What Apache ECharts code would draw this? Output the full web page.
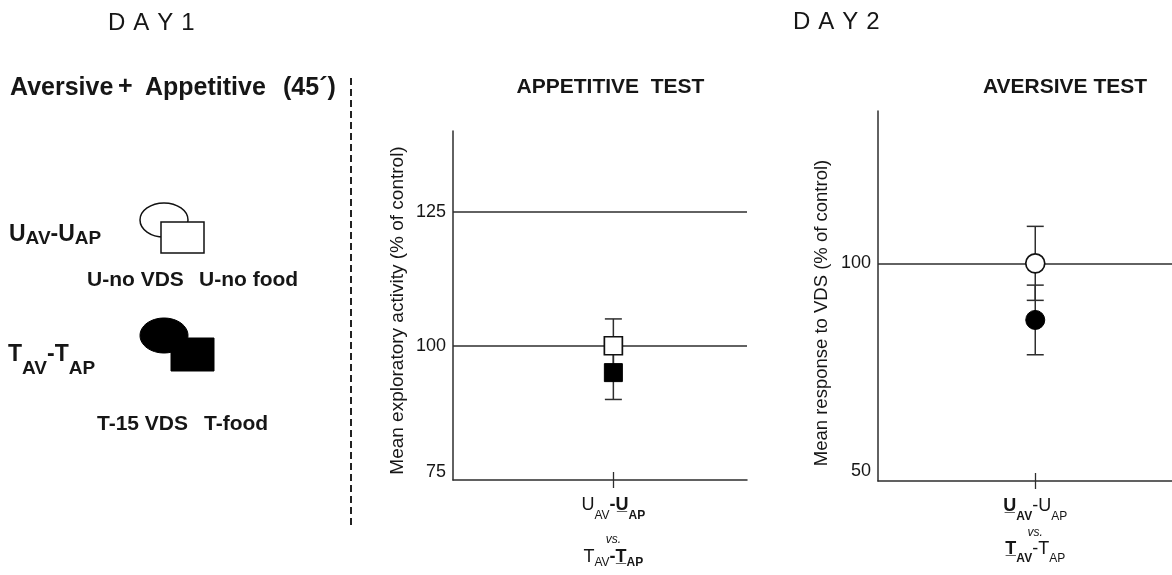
<!DOCTYPE html>
<html><head><meta charset="utf-8">
<script src="https://cdn.jsdelivr.net/npm/echarts@6/dist/echarts.min.js"></script>
<style>html,body{margin:0;padding:0;background:#fff}#c{width:1172px;height:575px}</style>
</head><body><div id="c"></div>
<script>
// ---------- data ----------
const groupPositions = [0];                       // one comparison group per test
const appetitiveMeans = [100, 95];                // [U_AV-U_AP (open), T_AV-T_AP (filled)]
const appetitiveErrors = [5, 5];
const aversiveMeans = [100, 87];
const aversiveErrors = [8.5, 8];
const appetitiveTicks = [75, 100, 125];
const appetitiveMax = 140;
const aversiveTicks = [50, 100];
const aversiveMax = 135;
const appetitiveGroupLabel = '{r|U}{rs|AV}{b|-}{bu|U\u0332}{bs|AP}\n{vs|vs.}\n{r|T}{rs3|AV}{b|-}{bu|T\u0332}{bs3|AP}';
const aversiveGroupLabel = '{bu|U\u0332}{bs|AV}{r|-U}{rs|AP}\n{vs|vs.}\n{bu|T\u0332}{bs3|AV}{r|-T}{rs3|AP}';

// ---------- style ----------
const FONT = '"Liberation Sans", Arial, Helvetica, sans-serif';
const INK = '#161616';
const LINE = '#2e2e2e';

const chart = echarts.init(document.getElementById('c'), null, {renderer: 'canvas'});

// lineH: height of first line; vsH / vsPad: height and top padding of the "vs." line
function richFor(lineH, vsH, vsPad, sub1Pad, sub3Pad) {
  const base = {fontFamily: FONT, color: INK, verticalAlign: 'top'};
  const main = Object.assign({}, base, {fontSize: 18, lineHeight: lineH});
  const sub = Object.assign({}, base, {fontSize: 12, lineHeight: 10});
  return {
    r: main,
    b: Object.assign({}, main, {fontWeight: 'bold'}),
    bu: Object.assign({}, main, {fontWeight: 'bold'}),
    rs: Object.assign({}, sub, {padding: [sub1Pad, 0, 0, 0]}),
    bs: Object.assign({}, sub, {fontWeight: 'bold', padding: [sub1Pad, 0, 0, 0]}),
    rs3: Object.assign({}, sub, {padding: [sub3Pad, 0, 0, 0]}),
    bs3: Object.assign({}, sub, {fontWeight: 'bold', padding: [sub3Pad, 0, 0, 0]}),
    vs: Object.assign({}, base, {fontSize: 12, lineHeight: vsH, fontStyle: 'italic', padding: [vsPad, 0, 0, 0]})
  };
}

function errorSeries(axisIdx, means, errs) {
  return {
    type: 'custom', xAxisIndex: axisIdx * 2, yAxisIndex: axisIdx, z: 2, silent: true,
    encode: {x: 0, y: [1, 2]},
    data: means.map((m, i) => [groupPositions[0], m - errs[i], m + errs[i]]),
    renderItem(params, api) {
      const x = api.value(0);
      const top = api.coord([x, api.value(2)]);
      const bot = api.coord([x, api.value(1)]);
      const hw = 8.5;
      const st = {stroke: LINE, lineWidth: 1.5};
      return {type: 'group', children: [
        {type: 'line', shape: {x1: top[0], y1: top[1], x2: bot[0], y2: bot[1]}, style: st},
        {type: 'line', shape: {x1: top[0] - hw, y1: top[1], x2: top[0] + hw, y2: top[1]}, style: st},
        {type: 'line', shape: {x1: bot[0] - hw, y1: bot[1], x2: bot[0] + hw, y2: bot[1]}, style: st}
      ]};
    }
  };
}

function markerSeries(axisIdx, value, symbol, filled, size) {
  return {
    type: 'scatter', xAxisIndex: axisIdx * 2, yAxisIndex: axisIdx, z: 3, silent: true,
    symbol: symbol, symbolSize: size,
    data: [[groupPositions[0], value]],
    itemStyle: filled ? {color: '#000', borderColor: '#000', borderWidth: 1, opacity: 1}
                      : {color: '#fff', borderColor: '#111', borderWidth: 1.7, opacity: 1}
  };
}

function xAxes(grid, min, label, rich) {
  return [
    {gridIndex: grid, type: 'value', min: min, max: 1, position: 'bottom',
     axisLine: {show: true, onZero: false, lineStyle: {color: LINE, width: 1.5}},
     axisTick: {show: true, customValues: groupPositions, length: 8, lineStyle: {color: LINE, width: 1.3}},
     axisLabel: {show: true, customValues: groupPositions, margin: 16, formatter: () => label, rich: rich},
     splitLine: {show: false}},
    {gridIndex: grid, type: 'value', min: min, max: 1, position: 'bottom',
     axisLine: {show: false, onZero: false},
     axisTick: {show: true, inside: true, customValues: groupPositions, length: 8, lineStyle: {color: LINE, width: 1.3}},
     axisLabel: {show: false},
     splitLine: {show: false}}
  ];
}

function yAxis(grid, ticks, max, name, nameSize, lowPad, namePad, nameGap) {
  return {
    gridIndex: grid, type: 'value', min: ticks[0], max: max, interval: ticks[1] - ticks[0],
    name: name, nameLocation: 'middle', nameRotate: 90, nameGap: nameGap,
    nameTextStyle: {fontSize: nameSize, fontFamily: FONT, color: INK, padding: namePad},
    axisLine: {show: true, onZero: false, lineStyle: {color: LINE, width: 1.5}},
    axisTick: {show: false},
    axisLabel: {fontSize: 18, fontFamily: FONT, color: INK, margin: 7, showMaxLabel: false,
      formatter: v => v === ticks[0] ? '{lo|' + v + '}' : String(v),
      rich: {lo: {fontSize: 18, fontFamily: FONT, color: INK, padding: [0, 0, lowPad, 0]}}},
    splitLine: {show: true, showMinLine: false, showMaxLine: false, lineStyle: {color: LINE, width: 1.5}}
  };
}

const txt = (x, y, text, size, weight, extra) => ({
  type: 'text', x: x, y: y, silent: true,
  style: Object.assign({text: text, fontSize: size, fontFamily: FONT, fontWeight: weight || 'normal',
    fill: INK, align: 'left', verticalAlign: 'middle', textAlign: 'left', textVerticalAlign: 'middle'}, extra || {})
});

const dayRich = {l: {fontSize: 24, fontFamily: FONT, fill: INK, padding: [0, 4, 0, 4]}};
const groupRich = (subPad) => ({
  m: {fontSize: 23, fontFamily: FONT, fontWeight: 'bold', fill: INK, lineHeight: 23, verticalAlign: 'top'},
  s: {fontSize: 19, fontFamily: FONT, fontWeight: 'bold', fill: INK, lineHeight: 12, verticalAlign: 'top', padding: [subPad, 0, 0, 0]}
});

const option = {
  backgroundColor: '#fff',
  animation: false,
  grid: [
    {left: 453, top: 131, width: 294, height: 349, containLabel: false},
    {left: 878, top: 111, right: 0, height: 370, containLabel: false}
  ],
  xAxis: [].concat(
    xAxes(0, -1.2, appetitiveGroupLabel, richFor(26, 26, 12, 14, 9)),
    xAxes(1, -1.15, aversiveGroupLabel, richFor(26, 17, 4, 14, 13))
  ),
  yAxis: [
    yAxis(0, appetitiveTicks, appetitiveMax, 'Mean exploratory activity (% of control)', 19, 16, [0, 10, 0, 0], 46),
    yAxis(1, aversiveTicks, aversiveMax, 'Mean response to VDS (% of control)', 18.5, 20, [0, 34, 0, 0], 47)
  ],
  series: [
    errorSeries(0, appetitiveMeans, appetitiveErrors),
    markerSeries(0, appetitiveMeans[0], 'rect', false, 18),
    markerSeries(0, appetitiveMeans[1], 'rect', true, 18),
    errorSeries(1, aversiveMeans, aversiveErrors),
    markerSeries(1, aversiveMeans[0], 'circle', false, 19),
    markerSeries(1, aversiveMeans[1], 'circle', true, 19)
  ],
  graphic: [
    txt(104, 23, '{l|D}{l|A}{l|Y}{l|1}', 24, 'normal', {rich: dayRich}),
    txt(789, 22, '{l|D}{l|A}{l|Y}{l|2}', 24, 'normal', {rich: dayRich}),
    txt(610.5, 87, 'APPETITIVE  TEST', 21, 'bold', {align: 'center', textAlign: 'center'}),
    txt(1065, 87, 'AVERSIVE TEST', 21, 'bold', {align: 'center', textAlign: 'center'}),
    txt(10, 88, 'Aversive', 25, 'bold'),
    txt(118, 87, '+', 25, 'bold'),
    txt(145, 88, 'Appetitive', 25, 'bold'),
    txt(283, 88, '(45\u00B4)', 25, 'bold'),
    {type: 'line', silent: true, shape: {x1: 351, y1: 78, x2: 351, y2: 527},
     style: {stroke: '#222', lineWidth: 2, lineDash: [7, 4]}},
    txt(9, 223, '{m|U}{s|AV}{m|-U}{s|AP}', 23, 'bold',
        {rich: groupRich(6.5), verticalAlign: 'top', textVerticalAlign: 'top'}),
    {type: 'ellipse', silent: true, shape: {cx: 164, cy: 220, rx: 24, ry: 17},
     style: {fill: '#fff', stroke: '#111', lineWidth: 1.5}},
    {type: 'rect', silent: true, shape: {x: 161, y: 222, width: 43, height: 31},
     style: {fill: '#fff', stroke: '#111', lineWidth: 1.5}},
    txt(87, 280, 'U-no VDS', 21, 'bold'),
    txt(199, 280, 'U-no food', 21, 'bold'),
    txt(8, 343.5, '{m|T}{s|AV}{m|-T}{s|AP}', 23, 'bold',
        {rich: groupRich(16), verticalAlign: 'top', textVerticalAlign: 'top'}),
    {type: 'ellipse', silent: true, shape: {cx: 164, cy: 335.5, rx: 24, ry: 17.5},
     style: {fill: '#000', stroke: '#000', lineWidth: 1}},
    {type: 'rect', silent: true, shape: {x: 171, y: 338, width: 43, height: 33},
     style: {fill: '#000', stroke: '#000', lineWidth: 1}},
    txt(97, 424, 'T-15 VDS', 21, 'bold'),
    txt(204, 424, 'T-food', 21, 'bold')
  ]
};
chart.setOption(option);
</script>
</body></html>
